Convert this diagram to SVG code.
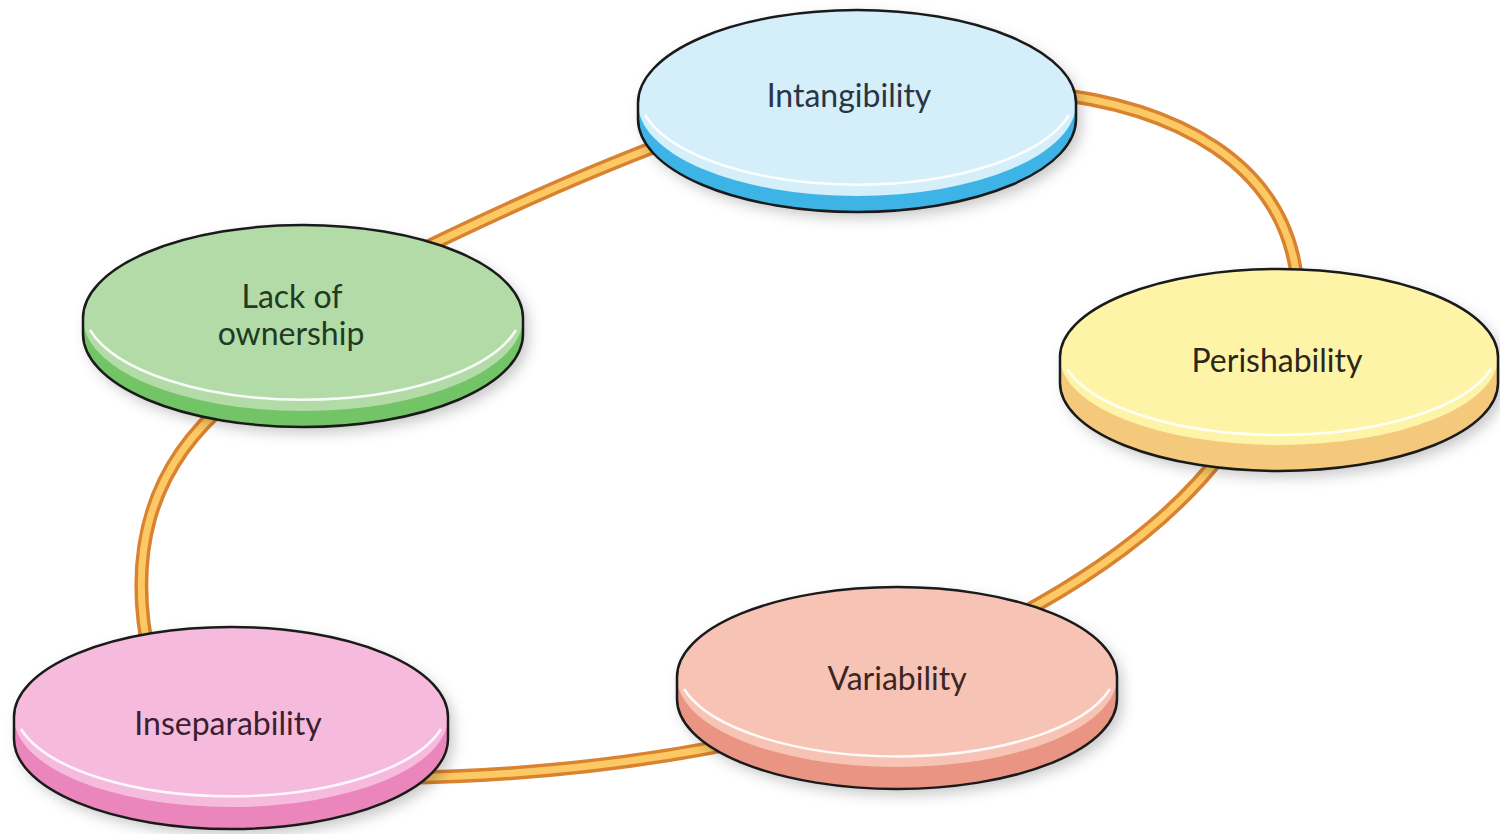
<svg xmlns="http://www.w3.org/2000/svg" width="1500" height="834" viewBox="0 0 1500 834">
<defs>
<filter id="sh" x="-20%" y="-30%" width="140%" height="160%">
<feDropShadow dx="5" dy="6" stdDeviation="7" flood-color="#000" flood-opacity="0.22"/>
</filter>
</defs>
<style>
.tubeOut{fill:none;stroke:#d9822f;stroke-width:14;stroke-linecap:round}
.tubeIn{fill:none;stroke:#fcc964;stroke-width:7;stroke-linecap:round}
.outline{fill:none;stroke:#1a1a1a;stroke-width:2.5}
.hl{fill:none;stroke:#ffffff;stroke-width:2.5;stroke-opacity:0.9}
.lbl{font-family:Lato,"Open Sans","Liberation Sans",sans-serif;font-size:32px;text-anchor:middle}
</style>
<rect width="1500" height="834" fill="#ffffff"/>
<g id="connectors">
<path class="tubeOut" d="M700,130 Q560,180 380,270"/>
<path class="tubeIn" d="M700,130 Q560,180 380,270"/>
<path class="tubeOut" d="M1040,92 C1170,105 1290,160 1298,290"/>
<path class="tubeIn" d="M1040,92 C1170,105 1290,160 1298,290"/>
<path class="tubeOut" d="M1225,450 Q1150,550 990,630"/>
<path class="tubeIn" d="M1225,450 Q1150,550 990,630"/>
<path class="tubeOut" d="M760,738 Q590,775 400,778"/>
<path class="tubeIn" d="M760,738 Q590,775 400,778"/>
<path class="tubeOut" d="M150,660 C128,560 145,470 230,400"/>
<path class="tubeIn" d="M150,660 C128,560 145,470 230,400"/>
</g>
<g id="node-intangibility">
<path d="M638,103 A219,93 0 0 1 1076,103 L1076,119 A219,93 0 0 1 638,119 Z" fill="#3db4e5" filter="url(#sh)"/>
<ellipse cx="857" cy="103" rx="219" ry="93" fill="#d4eefa"/>
<path class="hl" d="M645,115 A219,93 0 0 0 1069,115"/>
<path class="outline" d="M638,103 A219,93 0 0 1 1076,103 L1076,119 A219,93 0 0 1 638,119 Z"/>
<text class="lbl" x="849" y="107" fill="#2b3442">Intangibility</text>
</g>
<g id="node-lack-of-ownership">
<path d="M83,318 A220,93 0 0 1 523,318 L523,334 A220,93 0 0 1 83,334 Z" fill="#72c466" filter="url(#sh)"/>
<ellipse cx="303" cy="318" rx="220" ry="93" fill="#b3dba8"/>
<path class="hl" d="M90,330 A220,93 0 0 0 516,330"/>
<path class="outline" d="M83,318 A220,93 0 0 1 523,318 L523,334 A220,93 0 0 1 83,334 Z"/>
<text class="lbl" x="292" y="308" fill="#213a22">Lack of</text>
<text class="lbl" x="291" y="345" fill="#213a22">ownership</text>
</g>
<g id="node-perishability">
<path d="M1060,357 A219,88 0 0 1 1498,357 L1498,383 A219,88 0 0 1 1060,383 Z" fill="#f4c97c" filter="url(#sh)"/>
<ellipse cx="1279" cy="357" rx="219" ry="88" fill="#fdf4a8"/>
<path class="hl" d="M1067,369 A219,88 0 0 0 1491,369"/>
<path class="outline" d="M1060,357 A219,88 0 0 1 1498,357 L1498,383 A219,88 0 0 1 1060,383 Z"/>
<text class="lbl" x="1277" y="372" fill="#2c2718">Perishability</text>
</g>
<g id="node-inseparability">
<path d="M14,717 A217,90 0 0 1 448,717 L448,739 A217,90 0 0 1 14,739 Z" fill="#ea86bb" filter="url(#sh)"/>
<ellipse cx="231" cy="717" rx="217" ry="90" fill="#f6bbdc"/>
<path class="hl" d="M21,729 A217,90 0 0 0 441,729"/>
<path class="outline" d="M14,717 A217,90 0 0 1 448,717 L448,739 A217,90 0 0 1 14,739 Z"/>
<text class="lbl" x="228" y="735" fill="#3b2030">Inseparability</text>
</g>
<g id="node-variability">
<path d="M677,677 A220,90 0 0 1 1117,677 L1117,699 A220,90 0 0 1 677,699 Z" fill="#ea9583" filter="url(#sh)"/>
<ellipse cx="897" cy="677" rx="220" ry="90" fill="#f7c3b4"/>
<path class="hl" d="M684,689 A220,90 0 0 0 1110,689"/>
<path class="outline" d="M677,677 A220,90 0 0 1 1117,677 L1117,699 A220,90 0 0 1 677,699 Z"/>
<text class="lbl" x="897" y="690" fill="#3b2622">Variability</text>
</g>
</svg>
